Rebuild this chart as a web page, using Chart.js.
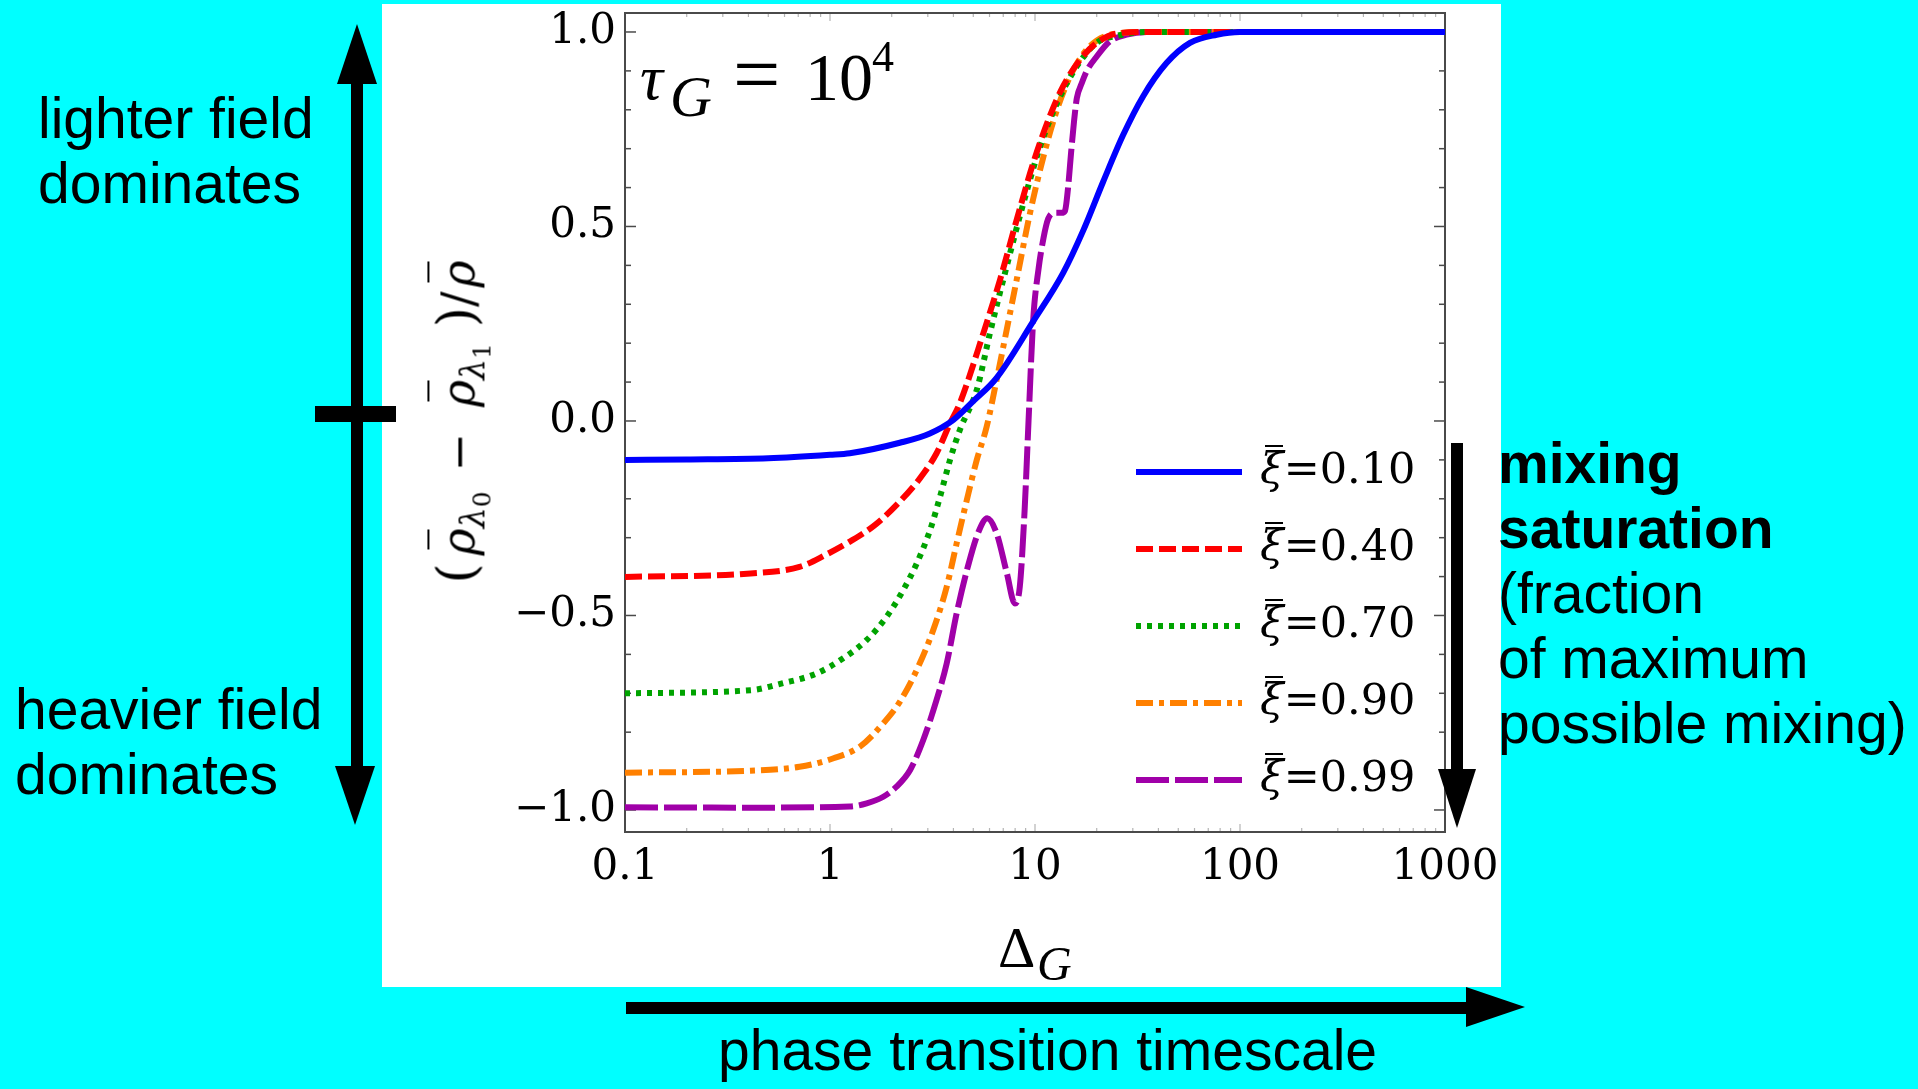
<!DOCTYPE html>
<html>
<head>
<meta charset="utf-8">
<title>tau_G = 10^4</title>
<script src="https://cdn.jsdelivr.net/npm/chart.js@4.4.1/dist/chart.umd.min.js"></script>
<style>
  html, body { margin: 0; padding: 0; background: #00ffff; overflow: hidden; }
  #wrap { position: relative; width: 1918px; height: 1089px; }
  #chart { position: absolute; left: 0; top: 0; }
  .note { position: absolute; font-family: 'Liberation Sans', Arial, sans-serif; font-size: 57px;
          line-height: 65px; color: #000; white-space: nowrap; }
  .serif { position: absolute; font-family: 'DejaVu Serif', serif; color: #000; white-space: nowrap; }
  .lib { position: absolute; font-family: 'Liberation Serif', serif; color: #000; white-space: nowrap; line-height: 1; }
  .ob { position: relative; display: inline-block; }
  .ob::before { content: ''; position: absolute; left: 0.12em; right: 0.02em; top: -0.05em; border-top: 2.5px solid #000; }
  .leg { font-size: 43px; line-height: 43px; left: 1260px; }
  #ytitle { left: 458px; top: 422px; font-size: 46px; line-height: 46px;
            transform: translate(-50%, -50%) rotate(-90deg); }
  #ytitle .ob::before { top: -0.18em; }
  #ytitle sub { font-size: 0.72em; vertical-align: -0.3em; line-height: 0; }
  #ytitle sub sub { font-size: 0.75em; vertical-align: -0.25em; }
  #ytitle .par { font-size: 1.12em; }
  #ytitle .op { margin: 0 26px 0 20px; }
</style>
</head>
<body>
<div id="wrap">
  <canvas id="chart" width="1918" height="1089"></canvas>

  <div class="note" style="left:38px; top:86px;">lighter field<br>dominates</div>
  <div class="note" style="left:15px; top:677px;">heavier field<br>dominates</div>
  <div class="note" style="left:1498px; top:431px;"><b>mixing</b><br><b>saturation</b><br>(fraction<br>of maximum<br>possible mixing)</div>
  <div class="note" style="left:718px; top:1018px;">phase transition timescale</div>

  <span class="lib" style="left:640px; top:46px; font-size:64px;"><i>τ</i></span>
  <span class="lib" style="left:670px; top:68px; font-size:58px;"><i>G</i></span>
  <span class="lib" style="left:733px; top:33px; font-size:84px;">=</span>
  <span class="lib" style="left:805px; top:43px; font-size:68px;">10</span>
  <span class="lib" style="left:872px; top:35px; font-size:44px;">4</span>

  <span class="lib" style="left:998px; top:919px; font-size:58px;">Δ</span>
  <span class="lib" style="left:1037px; top:940px; font-size:48px;"><i>G</i></span>

  <div id="ytitle" class="serif"><span class="par" style="margin-right:8px">(</span><span class="ob"><i>ρ</i></span><sub><i>λ</i><sub>0</sub></sub><span class="op">−</span><span class="ob"><i>ρ</i></span><sub><i>λ</i><sub>1</sub></sub><span class="par" style="margin-left:16px">)</span>/<span class="ob" style="margin-left:4px"><i>ρ</i></span></div>

  <div id="legend"></div>
</div>

<script>
// mixing saturation of each curve
const xiValues = [0.10, 0.40, 0.70, 0.90, 0.99];

// Delta_G samples and (rho0 - rho1)/rho, one pair per curve
const dG_010  = [0.1, 0.2, 0.5, 1.0, 1.25, 2.19, 3.07, 4.0, 5.0, 6.5, 9.8, 13.7, 17.2, 21.5, 26.9, 33.7, 43.8, 57, 77, 100, 1000];
const rho_010 = [-0.100, -0.099, -0.096, -0.087, -0.083, -0.056, -0.032, 0.003, 0.051, 0.111, 0.256, 0.38, 0.49, 0.615, 0.735, 0.835, 0.92, 0.972, 0.993, 1.0, 1.0];

const dG_040  = [0.1, 0.41, 0.71, 0.946, 1.25, 1.66, 2.19, 2.75, 3.31, 3.85, 4.3, 5.6, 6.75, 8.14, 9.8, 11.8, 13.7, 16.6, 20, 25, 35, 1000];
const rho_040 = [-0.401, -0.392, -0.375, -0.345, -0.31, -0.267, -0.207, -0.147, -0.083, -0.006, 0.046, 0.226, 0.363, 0.517, 0.663, 0.783, 0.86, 0.929, 0.972, 0.996, 1.0, 1.0];

const dG_070  = [0.1, 0.41, 0.59, 0.86, 1.16, 1.51, 1.89, 2.28, 2.65, 3.08, 3.44, 3.85, 4.3, 5.2, 6.03, 7.28, 8.78, 10.6, 12.8, 16, 20, 25, 35, 1000];
const rho_070 = [-0.700, -0.692, -0.674, -0.649, -0.61, -0.563, -0.503, -0.434, -0.366, -0.28, -0.195, -0.1, -0.023, 0.08, 0.226, 0.398, 0.56, 0.706, 0.817, 0.912, 0.972, 0.99, 1.0, 1.0];

const dG_090  = [0.1, 0.41, 0.71, 1.04, 1.4, 1.82, 2.19, 2.65, 3.19, 3.71, 4.15, 4.65, 5.2, 5.81, 6.5, 7.28, 8.14, 9.46, 11, 12.8, 15.4, 18.5, 23.2, 35, 1000];
const rho_090 = [-0.904, -0.899, -0.889, -0.867, -0.837, -0.777, -0.722, -0.64, -0.537, -0.426, -0.314, -0.203, -0.1, -0.015, 0.106, 0.235, 0.363, 0.535, 0.68, 0.8, 0.903, 0.963, 0.993, 1.0, 1.0];

const dG_099  = [0.1, 0.41, 1.25, 1.51, 1.82, 2.11, 2.46, 2.85, 3.31, 3.71, 4.15, 4.7, 5.3, 5.85, 6.5, 7.28, 7.98, 8.43, 8.9, 9.3, 9.8, 10.4, 11, 11.6, 12.5, 13.5, 14.0, 14.5, 15.0, 15.5, 16.0, 16.9, 17.9, 20, 23.2, 28, 36, 1000];
const rho_099 = [-0.993, -0.994, -0.991, -0.983, -0.966, -0.94, -0.897, -0.82, -0.717, -0.623, -0.494, -0.375, -0.285, -0.25, -0.289, -0.39, -0.469, -0.426, -0.229, 0.0, 0.26, 0.39, 0.47, 0.52, 0.535, 0.535, 0.54, 0.6, 0.69, 0.77, 0.83, 0.868, 0.9, 0.937, 0.976, 0.993, 1.0, 1.0];

// axis ticks
const xTickValues = [0.1, 1, 10, 100, 1000];
const xTickLabels = ['0.1', '1', '10', '100', '1000'];

const seriesX = [dG_010, dG_040, dG_070, dG_090, dG_099];
const seriesY = [rho_010, rho_040, rho_070, rho_090, rho_099];
const colors  = ['#0000ff', '#ff0000', '#00a300', '#ff8000', '#a000a8'];
const dashes  = [[], [17, 6], [5, 6], [17, 6, 5, 6], [33, 6]];

const tickFont = { family: "'DejaVu Serif', serif", size: 42 };

// ── legend labels (html, so the overbar sits right) ──
document.getElementById('legend').innerHTML = xiValues.map((v, i) =>
    `<div class="serif leg" style="top:${447 + 77 * i}px"><span class="ob"><i>ξ</i></span>=${v.toFixed(2)}</div>`
).join('');

// white panel behind the plot
const panel = {
    id: 'panel',
    beforeDraw(chart) {
        const ctx = chart.ctx;
        ctx.save();
        ctx.fillStyle = '#ffffff';
        ctx.fillRect(382, 4, 1119, 983);
        ctx.restore();
    }
};

// Mathematica style frame with inside ticks on all four sides
const frame = {
    id: 'frame',
    beforeDatasetsDraw(chart) {
        const { ctx, chartArea: a, scales: { x, y } } = chart;
        const seg = (x0, y0, x1, y1) => { ctx.beginPath(); ctx.moveTo(x0, y0); ctx.lineTo(x1, y1); ctx.stroke(); };
        ctx.save();
        ctx.strokeStyle = '#4a4a4a';
        ctx.lineWidth = 1.5;
        for (let k = -10; k <= 10; k++) {
            const py = y.getPixelForValue(k / 10);
            const len = k % 5 === 0 ? 11 : 6;
            seg(a.left, py, a.left + len, py);
            seg(a.right, py, a.right - len, py);
        }
        ctx.strokeStyle = '#b4b4b4';
        ctx.lineWidth = 1.2;
        for (let e = -1; e <= 3; e++) {
            for (let m = 1; m <= 9; m++) {
                const v = m * Math.pow(10, e);
                if (v > 1000) break;
                const px = x.getPixelForValue(v);
                const len = m === 1 ? 8 : 4;
                seg(px, a.bottom, px, a.bottom - len);
                seg(px, a.top, px, a.top + len);
            }
        }
        ctx.strokeStyle = '#4a4a4a';
        ctx.lineWidth = 2;
        ctx.strokeRect(a.left, a.top, a.right - a.left, a.bottom - a.top);
        ctx.restore();
    }
};

// legend samples + the black arrows around the figure
const extras = {
    id: 'extras',
    afterDraw(chart) {
        const ctx = chart.ctx;
        ctx.save();
        chart.data.datasets.forEach((ds, i) => {
            const ly = 472 + 77 * i;
            ctx.strokeStyle = ds.borderColor;
            ctx.lineWidth = ds.borderWidth;
            ctx.setLineDash(ds.borderDash);
            ctx.lineCap = 'butt';
            ctx.beginPath();
            ctx.moveTo(1136, ly);
            ctx.lineTo(1242, ly);
            ctx.stroke();
        });
        ctx.setLineDash([]);
        ctx.fillStyle = '#000';
        const tri = (p) => { ctx.beginPath(); ctx.moveTo(p[0], p[1]); ctx.lineTo(p[2], p[3]); ctx.lineTo(p[4], p[5]); ctx.closePath(); ctx.fill(); };

        // left double arrow
        ctx.fillRect(351, 82, 12, 686);
        tri([357, 24, 337, 84, 377, 84]);
        tri([355, 825, 335, 766, 375, 766]);
        ctx.fillRect(315, 406, 81, 16);

        // right down arrow
        ctx.fillRect(1451, 443, 12, 328);
        tri([1457, 828, 1438, 769, 1476, 769]);

        // bottom arrow
        ctx.fillRect(626, 1002, 842, 12);
        tri([1525, 1007, 1466, 987, 1466, 1027]);
        ctx.restore();
    }
};

new Chart(document.getElementById('chart'), {
    type: 'line',
    data: {
        datasets: xiValues.map((xi, i) => ({
            label: 'ξ=' + xi.toFixed(2),
            data: seriesX[i].map((dx, j) => ({ x: dx, y: seriesY[i][j] })),
            borderColor: colors[i],
            borderDash: dashes[i],
            borderWidth: 6,
            borderCapStyle: 'butt',
            cubicInterpolationMode: 'monotone',
            pointRadius: 0,
            fill: false,
        }))
    },
    options: {
        responsive: false,
        animation: false,
        devicePixelRatio: 1,
        layout: { padding: { left: 0, top: 13, right: 473, bottom: 0 } },
        plugins: { legend: { display: false }, tooltip: { enabled: false } },
        scales: {
            x: {
                type: 'logarithmic',
                position: 'bottom',
                min: 0.1,
                max: 1000,
                afterFit: s => { s.height = 257; s.paddingLeft = 0; s.paddingRight = 0; },
                afterBuildTicks: s => { s.ticks = xTickValues.map(v => ({ value: v })); },
                grid: { display: false, drawTicks: false },
                border: { display: false },
                ticks: {
                    autoSkip: false, maxRotation: 0, minRotation: 0, padding: 11,
                    color: '#000', font: tickFont,
                    callback: (v, i) => xTickLabels[i]
                }
            },
            y: {
                type: 'linear',
                min: -1.0566,
                max: 1.0488,
                afterFit: s => { s.width = 625; s.paddingTop = 0; s.paddingBottom = 0; },
                grid: { display: false, drawTicks: false },
                border: { display: false },
                ticks: {
                    stepSize: 0.5, includeBounds: false, padding: 9,
                    color: '#000', font: tickFont,
                    callback: v => (v < 0 ? '\u2212' : '') + Math.abs(v).toFixed(1)
                }
            }
        }
    },
    plugins: [panel, frame, extras]
});
</script>
</body>
</html>
